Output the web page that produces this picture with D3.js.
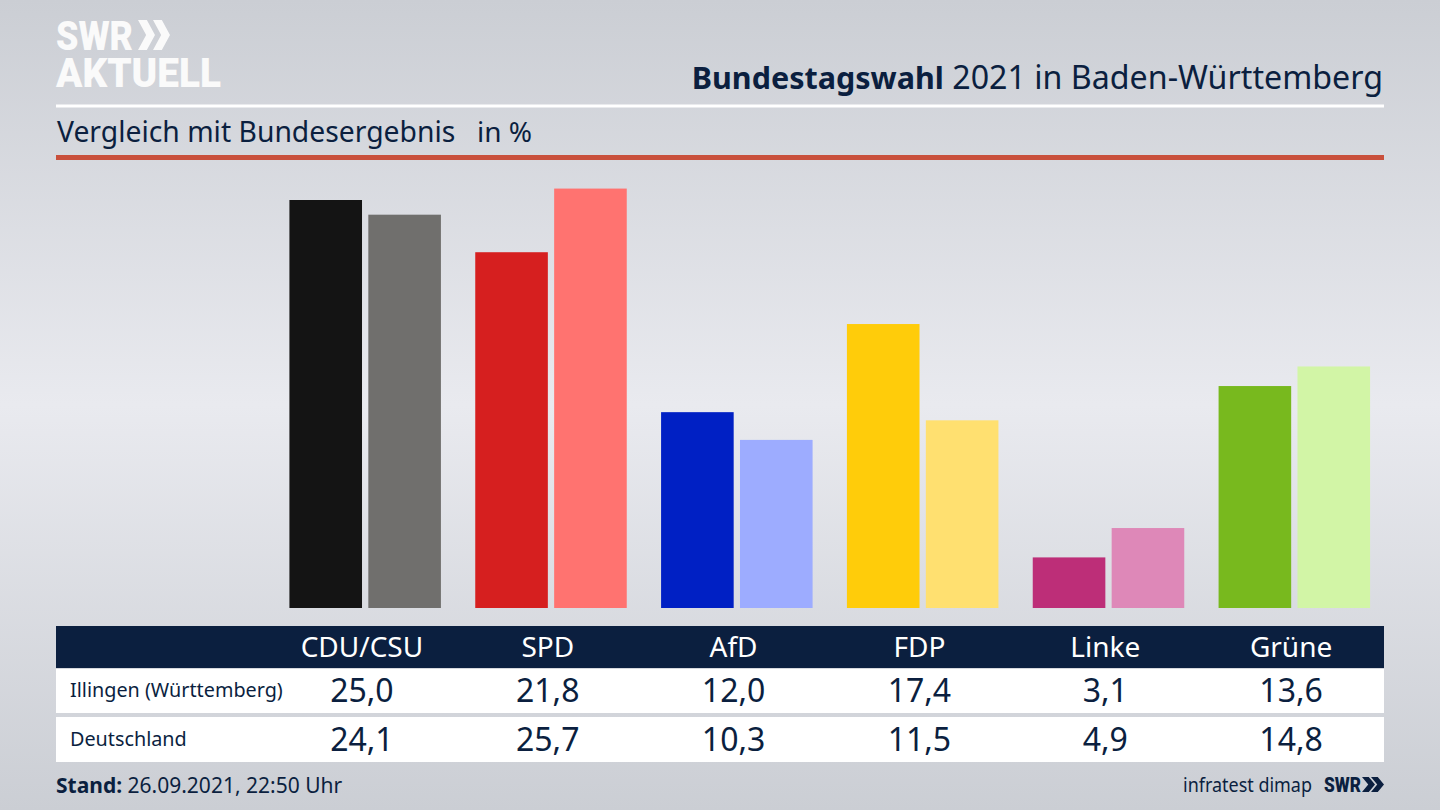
<!DOCTYPE html>
<html>
<head>
<meta charset="utf-8">
<script src="https://cdn.jsdelivr.net/npm/d3@7"></script>
<style>
  html, body { margin: 0; padding: 0; overflow: hidden; }
  text { font-family: "Noto Sans", sans-serif; fill: #0b1f3f; }
</style>
</head>
<body>
<svg id="chart" width="1440" height="810"></svg>
<script>
var parties = ["CDU/CSU", "SPD", "AfD", "FDP", "Linke", "Grüne"];
var regions = ["Illingen (Württemberg)", "Deutschland"];
var illingen = [25.0, 21.8, 12.0, 17.4, 3.1, 13.6];
var deutschland = [24.1, 25.7, 10.3, 11.5, 4.9, 14.8];
var colorsIllingen = ["#141414", "#d61f1f", "#0020c4", "#ffcc0a", "#bd2e78", "#78b91e"];
var colorsDeutschland = ["#706f6d", "#ff7370", "#9dacff", "#ffe070", "#de88b8", "#d2f5a6"];

var svg = d3.select("#chart");
var defs = svg.append("defs");

// Background is a soft vertical fade, lightest in the middle
var grad = defs.append("linearGradient")
    .attr("id", "bg")
    .attr("x1", 0).attr("y1", 0).attr("x2", 0).attr("y2", 1);
grad.append("stop").attr("offset", "0%").attr("stop-color", "#cbced4");
grad.append("stop").attr("offset", "50%").attr("stop-color", "#e9eaef");
grad.append("stop").attr("offset", "100%").attr("stop-color", "#cbced4");
svg.append("rect").attr("width", 1440).attr("height", 810).attr("fill", "url(#bg)");

// Scales
var x0 = d3.scaleBand().domain(parties).range([269, 1384]);
var x1 = d3.scaleBand().domain(regions).range([-72.5, 79]).paddingInner(0.08);
var y = d3.scaleLinear().domain([0, 25]).range([608, 200]);

function chevrons(g, x, top, h, w, gap, fill) {
    [0, gap].forEach(function(dx) {
        g.append("path")
            .attr("d", "M" + (x + dx) + "," + top +
                "h" + w * 0.52 + "l" + w * 0.48 + "," + h / 2 +
                "l" + (-w * 0.48) + "," + h / 2 + "h" + (-w * 0.52) +
                "l" + w * 0.48 + "," + (-h / 2) + "z")
            .attr("fill", fill);
    });
}

// Header
var logo = svg.append("g");
var logoText = logo.append("text")
    .style("font-size", "41px").style("font-weight", 900)
    .style("font-family", "Roboto")
    .style("fill", "#fafafa");
logoText.append("tspan")
    .attr("x", 56).attr("y", 50)
    .attr("textLength", 77).attr("lengthAdjust", "spacingAndGlyphs")
    .text("SWR");
logoText.append("tspan")
    .attr("x", 56).attr("y", 87)
    .attr("textLength", 165).attr("lengthAdjust", "spacingAndGlyphs")
    .text("AKTUELL");
chevrons(logo, 138, 20, 30, 17, 15, "#fafafa");

var title = svg.append("text")
    .attr("x", 1383).attr("y", 89)
    .attr("text-anchor", "end");
title.append("tspan").style("font-weight", 700).style("font-size", "30.5px").text("Bundestagswahl");
title.append("tspan").style("font-size", "32.2px").text(" 2021 in Baden-Württemberg");

svg.append("rect").attr("x", 56).attr("y", 104.5).attr("width", 1328).attr("height", 3).attr("fill", "#ffffff");

svg.append("text")
    .attr("x", 57).attr("y", 142)
    .style("font-size", "28.3px")
    .text("Vergleich mit Bundesergebnis");
svg.append("text")
    .attr("x", 477).attr("y", 142)
    .style("font-size", "28px")
    .text("in %");

svg.append("rect").attr("x", 56).attr("y", 155).attr("width", 1328).attr("height", 5).attr("fill", "#c9503c");

// Table background goes in first so the labels stay on top of it
svg.append("rect").attr("x", 56).attr("y", 626).attr("width", 1328).attr("height", 42).attr("fill", "#0b1f3f");
svg.append("rect").attr("x", 56).attr("y", 669).attr("width", 1328).attr("height", 44).attr("fill", "#ffffff");
svg.append("rect").attr("x", 56).attr("y", 717).attr("width", 1328).attr("height", 45).attr("fill", "#ffffff");

// Bars
var groups = svg.selectAll(".party")
    .data(parties)
    .enter()
    .append("g")
    .attr("class", "party")
    .attr("transform", function(d) {
        return "translate(" + (x0(d) + x0.bandwidth() / 2) + ",0)";
    });

groups.append("rect")
    .attr("x", x1(regions[0]))
    .attr("width", x1.bandwidth())
    .attr("y", function(d, i) { return y(illingen[i]); })
    .attr("height", function(d, i) { return y(0) - y(illingen[i]); })
    .attr("fill", function(d, i) { return colorsIllingen[i]; });

groups.append("rect")
    .attr("x", x1(regions[1]))
    .attr("width", x1.bandwidth())
    .attr("y", function(d, i) { return y(deutschland[i]); })
    .attr("height", function(d, i) { return y(0) - y(deutschland[i]); })
    .attr("fill", function(d, i) { return colorsDeutschland[i]; });

groups.append("text")
    .attr("y", 656.5)
    .attr("text-anchor", "middle")
    .style("font-size", "28px")
    .style("fill", "#ffffff")
    .text(function(d) { return d; });

function fmt(v) {
    return v.toFixed(1).replace(".", ",");
}

groups.append("text")
    .attr("y", 702)
    .attr("text-anchor", "middle")
    .style("font-size", "32px")
    .text(function(d, i) { return fmt(illingen[i]); });

groups.append("text")
    .attr("y", 751)
    .attr("text-anchor", "middle")
    .style("font-size", "32px")
    .text(function(d, i) { return fmt(deutschland[i]); });

svg.selectAll(".region")
    .data(regions)
    .enter()
    .append("text")
    .attr("class", "region")
    .attr("x", 70)
    .attr("y", function(d, i) { return i === 0 ? 697 : 746; })
    .style("font-size", "19.8px")
    .text(function(d) { return d; });

// Footer
var stand = svg.append("text").attr("x", 56).attr("y", 793).style("font-size", "21px");
stand.append("tspan").style("font-weight", 700).text("Stand:");
stand.append("tspan").text(" 26.09.2021, 22:50 Uhr");

svg.append("text")
    .attr("x", 1183).attr("y", 792)
    .attr("textLength", 129).attr("lengthAdjust", "spacingAndGlyphs")
    .style("font-size", "20px")
    .text("infratest dimap");
svg.append("text")
    .attr("x", 1324).attr("y", 792)
    .attr("textLength", 37).attr("lengthAdjust", "spacingAndGlyphs")
    .style("font-size", "21px").style("font-weight", 900)
    .style("font-family", "Roboto")
    .text("SWR");
chevrons(svg.append("g"), 1362, 777, 15, 13, 9, "#0b1f3f");
</script>
</body>
</html>
